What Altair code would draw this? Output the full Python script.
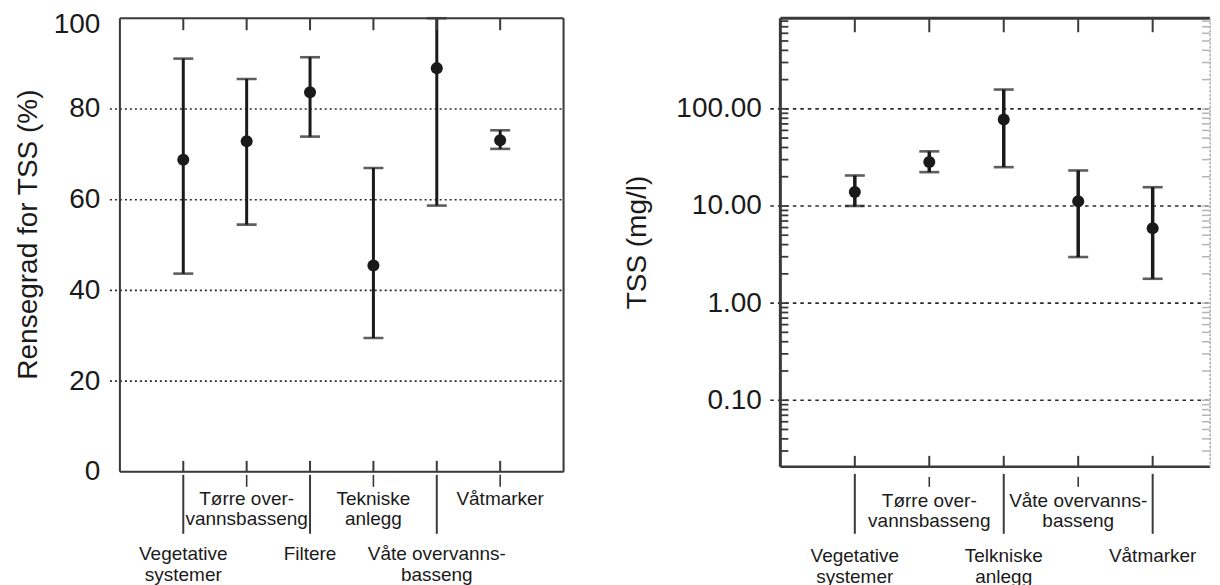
import altair as alt
import pandas as pd

FONT = "Liberation Sans"
INK = "#1a1a1a"
FRAME = "#3a3a3a"

# ---------------- data: left panel (removal efficiency, %) ----------------
left_labels = ["Vegetative\nsystemer", "Tørre over-\nvannsbasseng", "Filtere",
               "Tekniske\nanlegg", "Våte overvanns-\nbasseng", "Våtmarker"]
left_mean = [68.8, 72.9, 83.7, 45.5, 89.0, 73.1]
left_low = [43.7, 54.5, 73.9, 29.5, 58.7, 71.2]
left_high = [91.1, 86.6, 91.4, 67.0, 100.0, 75.3]
left_ticks = [0, 20, 40, 60, 80, 100]
left_grid = [20, 40, 60, 80]

# ---------------- data: right panel (TSS, mg/l, log) ----------------
right_labels = ["Vegetative\nsystemer", "Tørre over-\nvannsbasseng", "Telkniske\nanlegg",
                "Våte overvanns-\nbasseng", "Våtmarker"]
right_mean = [13.9, 28.3, 77.8, 11.2, 5.9]
right_low = [10.0, 22.3, 25.1, 2.98, 1.78]
right_high = [20.6, 36.5, 158.0, 23.2, 15.6]
right_ticks = [0.1, 1, 10, 100]
right_grid = [0.1, 1, 10, 100]
right_domain = [0.0206, 857]
right_minor = [m * 10.0 ** e for e in range(-2, 3) for m in range(1, 10)
               if right_domain[0] <= m * 10.0 ** e <= right_domain[1]]


def panel(labels, mean, low, high, ticks, grid, xdom, ys, W, H, title, fmt,
          title_x, title_y, lab_pad, bar_w, geo, frame_cfg, minor=None, label_offset=0):
    n = len(labels)
    df = pd.DataFrame({
        "pos": list(range(1, n + 1)),
        "label": labels,
        "mean": mean,
        "low": low,
        "high": high,
        "row": [i % 2 for i in range(n)],
    })
    xs = alt.Scale(domain=xdom)
    X = alt.X("pos:Q", scale=xs, axis=None)
    yaxis = alt.Axis(values=ticks, format=fmt, title=title, grid=False, ticks=False,
                     tickSize=0, domain=False, labelFont=FONT, labelFontSize=28,
                     labelColor=INK, labelPadding=lab_pad, labelOverlap=False,
                     labelOffset=label_offset,
                     titleFont=FONT, titleFontSize=28, titleFontWeight="normal",
                     titleColor=INK, titleAngle=-90, titleX=title_x, titleY=title_y,
                     titleAlign="center", titleBaseline="alphabetic")

    def Y(field):
        return alt.Y(field, scale=ys, axis=yaxis)

    base = alt.Chart(df)
    layers = []
    layers.append(
        alt.Chart(pd.DataFrame({"g": grid})).mark_rule(
            color="#2a2a2a", strokeWidth=1.6, strokeDash=geo["dash"]
        ).encode(y=Y("g:Q"), x=alt.value(-10), x2=alt.value(W))
    )
    if minor is not None:
        mdf = pd.DataFrame({"m": minor})
        layers.append(alt.Chart(mdf).mark_rule(color=FRAME, strokeWidth=1.8).encode(
            y=Y("m:Q"), x=alt.value(0), x2=alt.value(8)))
        layers.append(alt.Chart(mdf).mark_rule(color="#b5b5b5", strokeWidth=1.5).encode(
            y=Y("m:Q"), x=alt.value(W - 8), x2=alt.value(W)))
    layers.append(base.mark_rule(color=INK, strokeWidth=bar_w).encode(
        x=X, y=Y("low:Q"), y2="high:Q"))
    layers.append(base.mark_tick(orient="horizontal", size=20, thickness=2.6, color=INK).encode(
        x=X, y=Y("low:Q")))
    layers.append(base.mark_tick(orient="horizontal", size=20, thickness=2.6, color=INK).encode(
        x=X, y=Y("high:Q")))
    layers.append(base.mark_circle(size=145, color=INK, opacity=1).encode(
        x=X, y=Y("mean:Q")))
    # category ticks inside the frame (top and bottom)
    layers.append(base.mark_rule(color=FRAME, strokeWidth=2).encode(
        x=X, y=alt.value(0), y2=alt.value(geo["top_tick"])))
    layers.append(base.mark_rule(color=FRAME, strokeWidth=2).encode(
        x=X, y=alt.value(H - 11), y2=alt.value(H)))
    # ticks / separators below the axis
    layers.append(base.transform_filter("datum.row == 1").mark_rule(color=FRAME, strokeWidth=1.6).encode(
        x=X, y=alt.value(H + geo["short"][0]), y2=alt.value(H + geo["short"][1])))
    layers.append(base.transform_filter("datum.row == 0").mark_rule(color=FRAME, strokeWidth=2).encode(
        x=X, y=alt.value(H + geo["long"][0]), y2=alt.value(H + geo["long"][1])))
    # category labels in two rows
    layers.append(base.transform_filter("datum.row == 1").mark_text(
        font=FONT, fontSize=19, lineBreak="\n", lineHeight=20, baseline="top",
        align="center", color=INK).encode(x=X, y=alt.value(H + geo["up"]), text="label:N"))
    layers.append(base.transform_filter("datum.row == 0").mark_text(
        font=FONT, fontSize=19, lineBreak="\n", lineHeight=21, baseline="top",
        align="center", color=INK).encode(x=X, y=alt.value(H + geo["low"]), text="label:N"))
    # frame
    one = pd.DataFrame({"k": [0]})
    fr = frame_cfg
    layers.append(alt.Chart(one).mark_rule(color=FRAME, strokeWidth=fr["left"]).encode(
        x=alt.value(0), y=alt.value(0), y2=alt.value(H)))
    layers.append(alt.Chart(one).mark_rule(color=FRAME, strokeWidth=fr["top"]).encode(
        y=alt.value(0), x=alt.value(0), x2=alt.value(W)))
    layers.append(alt.Chart(one).mark_rule(color=FRAME, strokeWidth=fr["bottom"]).encode(
        y=alt.value(H), x=alt.value(0), x2=alt.value(W)))
    layers.append(alt.Chart(one).mark_rule(color=fr["rcolor"], strokeWidth=fr["right"],
                                           strokeDash=fr["rdash"]).encode(
        x=alt.value(W), y=alt.value(0), y2=alt.value(H)))
    return alt.layer(*layers).properties(width=W, height=H)


left = panel(left_labels, left_mean, left_low, left_high, left_ticks, left_grid,
             [0, 7], alt.Scale(domain=[0, 100]), 444, 454,
             "Rensegrad for TSS (%)", "d", -83, 216, 20, 3,
             {"dash": [2, 3], "top_tick": 12, "short": (3, 15), "long": (3, 62),
              "up": 18, "low": 73},
             {"left": 2, "top": 2, "bottom": 2, "right": 2, "rcolor": FRAME, "rdash": [1, 0]},
             label_offset={"condition": {"test": "datum.value == 100", "value": 6}, "value": 0})

right = panel(right_labels, right_mean, right_low, right_high, right_ticks, right_grid,
              [0, 5.77], alt.Scale(type="log", domain=right_domain), 430, 449,
              "TSS (mg/l)", ".2f", -135, 224, 19, 3.5,
              {"dash": [3.5, 4], "top_tick": 14, "short": (10, 20), "long": (7, 67),
               "up": 25, "low": 80},
              {"left": 3, "top": 3, "bottom": 2.5, "right": 1.5, "rcolor": "#b0b0b0",
               "rdash": [2, 2]},
              minor=right_minor)

chart = alt.hconcat(left, right, spacing=217, bounds="flush").properties(
    padding={"left": 6, "top": 1, "right": 0, "bottom": 0}
).configure_view(stroke="transparent").configure(font=FONT)

chart.save("out.html", embed_options={"renderer": "svg", "actions": False})
